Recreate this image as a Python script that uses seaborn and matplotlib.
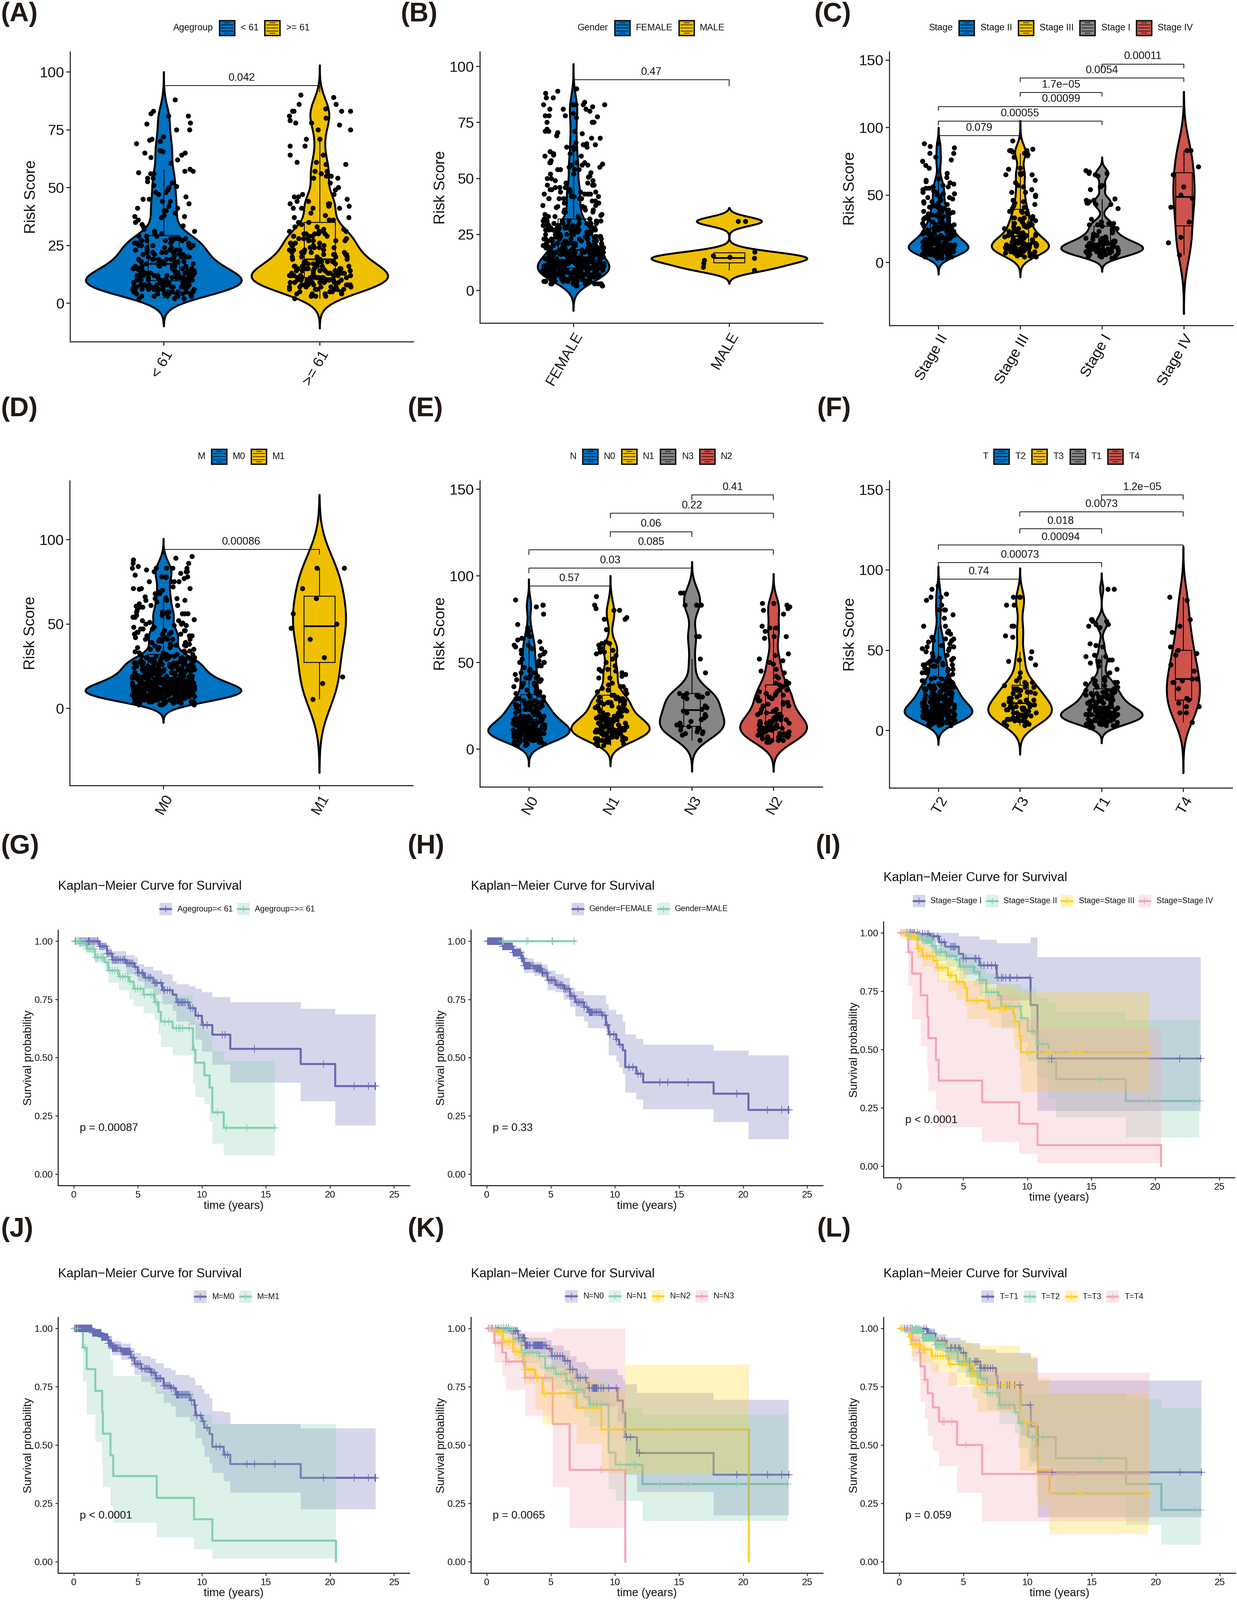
import matplotlib
matplotlib.use("Agg")
import matplotlib.pyplot as plt
import numpy as np
import pandas as pd
import seaborn as sns
from matplotlib.patches import Rectangle

# Risk score values
AGE_YOUNG = [2,2,2,3,3,3,3,3,4,4,4,4,4,4,4,5,5,5,5,5,5,5,5,6,6,6,6,6,6,6,6,6,6,7,7,7,7,7,7,7,7,7,7,7,
    8,8,8,8,8,8,8,8,8,8,8,8,9,9,9,9,9,9,9,9,9,10,10,10,10,10,10,10,10,10,10,10,10,10,11,11,11,11,11,11,11,11,11,11,11,
    12,12,12,12,12,12,12,12,12,12,13,13,13,13,13,13,13,13,14,14,14,14,14,14,14,14,15,15,15,15,15,15,15,16,16,16,16,16,16,
    17,17,17,17,17,17,18,18,18,18,18,18,19,19,19,19,19,19,20,20,20,20,20,21,21,21,21,21,22,22,22,22,22,23,23,23,23,23,
    24,24,24,24,24,25,25,25,25,25,26,26,26,26,26,27,27,27,27,27,27,28,28,28,28,28,29,29,29,
    30,30,31,31,32,33,33.5,34,35,36,37,37.5,37.5,38,39,40,40,41,41,42,43,44,44,45,45,46,47,48,48,49,50,50.5,51,52,52.5,
    54,54,56,56,56.5,57,57,58,60.5,62,63,64,65,65,65.5,66,69,70,70.5,71,72,75,75,77.5,78,81,81,82,83,88]
AGE_OLD = [2,3,3,3,4,4,4,4,5,5,5,5,5,6,6,6,6,6,6,7,7,7,7,7,7,7,8,8,8,8,8,8,8,8,9,9,9,9,9,9,9,9,9,
    10,10,10,10,10,10,10,10,10,10,11,11,11,11,11,11,11,11,11,11,11,12,12,12,12,12,12,12,12,12,12,13,13,13,13,13,13,13,13,13,
    14,14,14,14,14,14,14,14,15,15,15,15,15,15,15,16,16,16,16,16,16,17,17,17,17,17,17,18,18,18,18,18,18,19,19,19,19,19,
    20,20,20,20,20,21,21,21,21,21,22,22,22,22,22,23,23,23,23,24,24,24,24,25,25,25,25,26,26,26,26,27,27,27,27,28,28,28,28,
    29,29,29,29,29,30,30,30,30,30,31,31,31,31,32,32,33,33,34,35,35,36,36,37,37,38,39,41,41,41,41,42,42,43,43,43,44,44,45,46,46,
    47,47,49,50,52,54,54,55,55,56,57,57,60,60,61,61,64,64,68,68,71,71,75,75,77,78,78,79,80,81,83,83,83,83,84,86,86,89,90]
MALE_GROUP = [9,10.4,12,13.5,14.3,14.8,15.5,17.2,30.8,30.8]
STAGE_2 = [3,3,3,4,4,4,4,5,5,5,5,5,6,6,6,6,6,6,7,7,7,7,7,7,7,8,8,8,8,8,8,8,8,9,9,9,9,9,9,9,9,9,
    10,10,10,10,10,10,10,10,10,10,10,11,11,11,11,11,11,11,11,11,11,12,12,12,12,12,12,12,12,12,13,13,13,13,13,13,13,13,
    14,14,14,14,14,14,14,15,15,15,15,15,15,15,16,16,16,16,16,16,17,17,17,17,17,17,18,18,18,18,18,19,19,19,19,19,
    20,20,20,20,21,21,21,21,22,22,22,22,23,23,23,23,24,24,24,24,25,25,25,25,26,26,26,26,27,27,27,27,28,28,28,29,29,29,
    30,30,31,31,32,32,33,33,33,34,34,35,35,36,36,37,37,38,38,39,40,40,41,41,41,42,42,43,44,44,45,45,46,47,48,48,49,50,
    51,51,52,52,53,54,55,55,56,56,57,58,59,60,61,62,63,66,70,72,75,75,76,78,81,81,85,86,88,88]
STAGE_3 = [4,4,5,5,5,6,6,6,7,7,7,7,8,8,8,8,8,9,9,9,9,9,10,10,10,10,10,10,11,11,11,11,11,11,12,12,12,12,12,12,
    13,13,13,13,13,14,14,14,14,14,15,15,15,15,16,16,16,16,17,17,17,18,18,18,19,19,19,20,20,20,21,21,21,22,22,23,23,
    25,25,26,26,27,27,28,28,29,29,30,30,31,32,32,33,33,34,36,37,37,38,38,40,41,42,43,44,45,46,49,50,52,52,54,56,57,59,
    61,65,65,65,66,66,69,70,78,79,80,81,81,82,83,83,83,84,90]
STAGE_1 = [3,3,4,4,4,5,5,5,6,6,6,7,7,7,7,8,8,8,8,8,9,9,9,9,9,10,10,10,10,10,10,11,11,11,11,11,12,12,12,12,12,
    13,13,13,13,13,14,14,14,14,15,15,15,16,16,16,17,17,18,18,18,19,19,20,20,21,21,22,23,23,24,25,
    26,27,27,28,28,29,29,30,32,40,43,43,44,44,45,46,46,47,54,56,57,64,65,66,66,67,68]
STAGE_4 = [5.3,14.7,18.7,30,41,47.5,50,56,65,71,83,83]
N_0 = [2,2,3,3,3,4,4,4,4,4,5,5,5,5,5,5,6,6,6,6,6,6,6,7,7,7,7,7,7,7,7,8,8,8,8,8,8,8,8,8,9,9,9,9,9,9,9,9,9,9,
    10,10,10,10,10,10,10,10,10,10,10,11,11,11,11,11,11,11,11,11,11,12,12,12,12,12,12,12,12,12,13,13,13,13,13,13,13,13,
    14,14,14,14,14,14,14,15,15,15,15,15,15,16,16,16,16,16,16,17,17,17,17,17,17,18,18,18,18,18,19,19,19,19,19,
    20,20,20,20,20,21,21,21,21,21,22,22,22,22,23,23,23,23,24,24,24,24,25,25,25,25,26,26,26,26,27,27,27,27,28,28,28,29,29,29,
    30,30,31,31,32,32,33,33,34,35,36,36,37,38,38,39,40,40,41,41,41,42,42,43,44,44,45,46,47,48,48,49,50,50,50,51,52,54,
    55,55,56,57,58,58,59,60,60,62,63,64,65,66,68,70,72,78,82,83,83,86]
N_1 = [2,2,3,3,4,4,4,5,5,5,5,6,6,6,6,7,7,7,7,7,8,8,8,8,8,8,9,9,9,9,9,9,10,10,10,10,10,10,10,11,11,11,11,11,11,11,
    12,12,12,12,12,12,12,13,13,13,13,13,13,14,14,14,14,14,14,15,15,15,15,15,16,16,16,16,16,17,17,17,17,17,18,18,18,18,18,
    19,19,19,19,20,20,20,21,21,21,22,22,22,23,23,23,24,24,25,25,25,26,26,26,27,27,27,27,28,28,28,28,29,29,29,
    30,30,31,31,32,33,34,34,35,36,36,37,38,41,41,42,43,44,45,45,46,46,48,50,52,54,55,56,56,57,58,58,60,61,61,62,69,75,75,76,80,80,81,83,88]
N_3 = [5,8,9,9,10,10,11,12,12,13,13,14,15,16,17,18,19,20,21,22,22,23,24,25,29,30,30,30,31,31,32,32,32,44,52,65,65,83,83,83,90,90]
N_2 = [4,4,4,5,5,5,6,6,6,7,7,7,7,8,8,8,8,9,9,9,9,10,10,10,11,11,11,12,12,12,12,13,13,13,13,14,14,14,14,15,15,15,15,
    16,16,16,17,17,17,18,18,18,19,19,20,20,21,21,22,22,23,23,25,25,26,26,27,27,28,28,29,29,30,30,31,31,32,32,33,33,
    34,34,36,37,37,38,38,39,41,42,44,45,46,49,50,51,52,54,55,64,65,65,68,70,70,71,78,80,81,82,83,84,84]
T_2 = [3,3,3,4,4,4,4,5,5,5,5,5,6,6,6,6,6,6,7,7,7,7,7,7,7,8,8,8,8,8,8,8,8,9,9,9,9,9,9,9,9,9,10,10,10,10,10,10,10,10,10,10,
    11,11,11,11,11,11,11,11,11,11,11,12,12,12,12,12,12,12,12,12,12,13,13,13,13,13,13,13,13,13,14,14,14,14,14,14,14,14,
    15,15,15,15,15,15,15,16,16,16,16,16,16,16,17,17,17,17,17,17,17,18,18,18,18,18,18,19,19,19,19,19,19,20,20,20,20,20,20,
    21,21,21,21,21,22,22,22,22,22,23,23,23,23,23,24,24,24,24,25,25,25,25,25,26,26,26,26,26,27,27,27,27,27,28,28,28,28,28,29,29,29,29,
    30,30,30,31,31,31,32,32,33,33,33,34,34,35,36,36,37,37,38,38,38,39,40,40,41,41,41,41,42,42,43,43,44,44,45,45,46,47,48,49,50,
    51,51,52,52,53,54,55,56,56,57,57,58,60,61,62,65,65,70,72,75,75,75,78,81,83,83,85,88,90]
T_3 = [3,3,4,5,5,6,6,6,7,7,7,8,8,8,9,9,9,10,10,10,11,11,11,12,12,12,13,13,13,14,14,14,15,15,15,16,16,16,17,17,17,
    18,18,19,19,20,20,21,22,23,23,24,24,25,25,26,26,27,27,28,29,30,30,31,33,36,41,43,44,45,49,58,59,65,65,78,78,83,83,83]
T_1 = [2,2,3,3,3,4,4,4,4,5,5,5,5,5,6,6,6,6,6,6,7,7,7,7,7,7,7,8,8,8,8,8,8,8,9,9,9,9,9,9,9,10,10,10,10,10,10,10,10,
    11,11,11,11,11,11,11,12,12,12,12,12,12,13,13,13,13,13,13,14,14,14,14,14,15,15,15,15,16,16,16,16,17,17,17,17,18,18,18,18,
    19,19,19,20,20,20,21,21,21,22,22,22,23,23,23,24,24,24,25,25,25,26,26,27,27,28,28,29,29,
    30,30,31,31,32,32,33,36,38,40,42,43,44,44,46,46,47,52,53,54,64,65,66,66,68,68,69,69,88,88]
T_4 = [5,11,11,15,15,17,19,20,26,30,30,31,32,32,37,41,47,48,50,52,61,65,69,81,83]

# Kaplan-Meier steps (time, survival, lower, upper, censor times)
G1_T = [0,1.3,2,2.6,3,4.1,4.75,5,5.5,6.2,6.9,7.7,8,9,9.5,10,10.8,12.2,17.7,20.4,23.55]
G1_S = [1,1,.977,.946,.92,.905,.889,.863,.842,.82,.79,.77,.738,.712,.68,.64,.598,.538,.472,.377,.377]
G1_L = [1,.99,.967,.936,.9,.858,.85,.826,.795,.77,.728,.7,.655,.64,.577,.525,.47,.392,.312,.208,.208]
G1_H = [1,1,.988,.97,.956,.94,.93,.9,.89,.873,.857,.826,.815,.806,.795,.78,.759,.738,.71,.686,.686]
G1_C = [.1,.2,.3,.4,.5,.6,.7,.8,.9,1,1.1,1.15,1.2,1.3,1.4,1.5,1.6,1.7,1.8,1.9,2,2.1,2.2,2.3,2.4,2.5,2.6,2.7,2.8,2.9,3,3.1,3.2,3.3,3.4,3.5,3.65,3.8,3.9,4,4.1,4.2,4.3,4.4,4.5,4.6,4.8,5,5.1,5.3,5.4,5.6,5.8,5.9,6,6.3,6.4,6.5,6.8,7,7.1,7.3,7.5,8.1,8.2,8.3,8.4,8.5,8.6,8.7,8.9,9.1,9.3,9.7,10.1,10.4,11.6,11.8,14.1,19.5,21.9,23,23.5,23.55]
G2_T = [0,.4,1,1.65,2.4,2.7,3.5,4.3,4.65,5.45,6.3,6.6,6.8,7.7,9.3,9.5,10.2,10.6,10.8,11.7,15.7]
G2_S = [1,.99,.967,.93,.91,.873,.847,.826,.795,.77,.738,.696,.655,.627,.533,.478,.424,.371,.265,.199,.199]
G2_L = [1,.98,.95,.905,.87,.82,.79,.75,.72,.69,.66,.6,.545,.51,.39,.33,.3,.225,.13,.08,.08]
G2_H = [1,1,.985,.965,.955,.93,.905,.885,.865,.85,.83,.8,.77,.765,.68,.65,.615,.59,.527,.485,.485]
G2_C = [.2,.3,.4,.5,.6,.7,.8,.9,1,1.1,1.2,1.3,1.4,1.5,1.6,1.7,1.8,1.9,2.1,2.2,2.3,2.6,2.8,3,3.2,3.4,3.6,3.8,4,4.2,4.4,4.8,5,5.2,5.5,6,6.2,6.4,6.5,7.1,7.4,8,8.2,8.3,8.5,9,9.4,11.2,11.9,13.5,15.7]
H1_T = [0,1.25,2.05,2.7,2.9,3.7,4.3,4.75,5.35,6,6.5,6.9,7.6,7.9,9,9.3,9.5,10.1,10.3,10.6,10.8,11.65,12.2,17.7,20.4,23.55]
H1_S = [1,.977,.951,.925,.894,.882,.863,.832,.811,.795,.764,.738,.717,.694,.681,.639,.6,.577,.556,.532,.459,.431,.394,.345,.275,.275]
H1_L = [1,.965,.93,.9,.863,.852,.842,.79,.78,.75,.717,.676,.655,.627,.627,.608,.51,.483,.457,.431,.35,.32,.279,.223,.15,.15]
H1_H = [1,.99,.975,.96,.925,.91,.9,.873,.857,.842,.8,.785,.767,.767,.767,.728,.705,.686,.686,.655,.6,.58,.556,.53,.51,.51]
H2_T = [0,6.9]
H2_S = [1,1]
H2_C = [1.2,1.3,3.1,3.2,5.1,5.15,6.8]
I1_T = [0,1.5,2.4,3.1,3.6,4.65,5,6.25,7.6,10.25,10.8,23.55]
I1_S = [1,.995,.985,.96,.94,.91,.89,.86,.807,.69,.461,.461]
I1_L = [1,.98,.96,.92,.895,.85,.82,.78,.71,.56,.236,.236]
I1_H = [1,1,1,1,1,.985,.985,.97,.956,.98,.896,.896]
I1_C = [.1,.2,.3,.4,.5,.6,.7,.8,.9,1,1.1,1.2,1.4,1.6,1.8,2,2.2,2.3,2.4,2.6,2.7,3,3.3,3.5,4,4.1,4.2,4.3,4.4,5,5.2,5.9,6,6.2,6.4,6.6,6.9,7.2,7.5,7.7,8,8.1,8.3,8.6,8.7,9.2,10.2,11.9,21.9,23.55]
I2_T = [0,.75,1.8,2.55,2.85,3.7,4.45,4.7,5.85,6.25,6.8,7.75,7.95,9.5,10.05,10.7,11.65,12.25,17.7,23.45]
I2_S = [1,.985,.969,.943,.917,.9,.885,.854,.833,.797,.745,.73,.684,.635,.578,.523,.447,.372,.279,.279]
I2_L = [1,.97,.945,.915,.88,.855,.835,.8,.77,.73,.67,.65,.59,.53,.45,.38,.29,.208,.123,.123]
I2_H = [1,1,.99,.975,.955,.945,.935,.91,.895,.865,.825,.815,.78,.76,.76,.72,.7,.66,.628,.628]
I2_C = [.1,.3,.5,.7,.9,1,1.1,1.2,1.3,1.4,1.5,1.6,1.7,1.8,1.9,2,2.05,2.1,2.15,2.2,2.25,2.3,2.35,2.4,2.45,2.5,2.6,2.7,2.8,2.85,2.9,3,3.1,3.2,3.3,3.5,3.7,3.9,4.1,4.3,4.5,4.8,5,5.2,5.5,5.7,5.9,6.1,6.3,6.5,6.8,7,7.2,7.4,7.6,8.1,8.3,8.6,8.8,9.4,9.6,10.4,10.9,11.2,15.7,19.5,23,23.45]
I3_T = [0,.6,1.4,1.8,2.65,2.95,3.8,4.45,5.1,5.3,7,8.9,9,9.4,9.5,19.5]
I3_S = [1,.985,.932,.9,.88,.85,.818,.79,.765,.71,.677,.651,.62,.557,.488,.488]
I3_L = [1,.965,.89,.855,.83,.79,.75,.715,.685,.63,.595,.55,.5,.42,.32,.32]
I3_H = [1,1,.97,.945,.93,.91,.885,.865,.845,.8,.775,.76,.76,.75,.745,.745]
I3_C = [.1,.2,.3,.4,.6,.8,1,1.1,1.2,1.3,1.4,1.5,1.6,1.7,1.9,2.1,2.2,2.4,2.6,2.9,3,3.1,3.3,3.4,3.6,3.9,4,4.1,4.5,4.7,4.9,5.1,5.6,5.8,6,6.1,6.7,7.1,7.5,7.9,8.1,8.2,8.4,8.8,9,9.4,9.9,10,11.6,11.7,13.5,14.1,19.5]
I4_T = [0,.7,1,1.67,2.2,2.27,2.86,3.07,6.47,9.37,10.8,20.46]
I4_S = [1,.917,.825,.732,.64,.549,.456,.366,.274,.182,.09,0]
I4_L = [1,.772,.63,.514,.415,.32,.24,.167,.105,.053,.013,.013]
I4_H = [1,1,1,1,.99,.94,.868,.796,.73,.63,.59,.59]
I4_C = [.1,.3,.85]
J1_T = [0,1.45,2.15,2.7,3,3.7,4.45,4.75,5.25,6,6.4,7,7.6,7.95,9.05,9.4,9.5,10,10.2,10.6,10.8,11.7,12.2,17.7,23.55]
J1_S = [1,.98,.962,.936,.915,.9,.874,.848,.827,.811,.785,.754,.744,.715,.692,.671,.627,.602,.573,.547,.493,.458,.419,.359,.359]
J1_L = [1,.97,.945,.91,.885,.865,.835,.8,.77,.75,.72,.68,.665,.62,.6,.59,.53,.5,.45,.42,.38,.345,.295,.225,.225]
J1_H = [1,.99,.975,.965,.945,.935,.915,.895,.88,.87,.85,.83,.82,.8,.79,.78,.755,.74,.72,.7,.645,.64,.59,.57,.57]
COHORT_C = [.05,.1,.12,.15,.18,.2,.22,.25,.28,.3,.32,.35,.38,.4,.45,.5,.55,.6,.65,.7,.75,.8,.85,.9,.95,1,1.05,1.1,1.15,1.2,1.25,1.3,1.35,1.4,1.45,1.5,1.55,1.6,1.65,1.7,1.75,1.8,1.85,1.9,1.95,2,2.05,2.1,2.15,2.2,2.25,2.3,2.35,2.4,2.45,2.5,2.55,2.6,2.65,2.7,2.75,2.8,2.85,2.9,2.95,3,3.05,3.1,3.15,3.2,3.25,3.3,3.35,3.4,3.5,3.6,3.7,3.8,3.85,3.9,3.95,4,4.05,4.1,4.15,4.2,4.25,4.3,4.35,4.4,4.5,4.6,4.7,4.8,4.9,5,5.1,5.2,5.3,5.5,5.6,5.7,5.8,5.9,6,6.1,6.2,6.3,6.4,6.5,6.6,6.7,6.8,7,7.1,7.2,7.3,7.4,7.5,7.6,7.8,8,8.05,8.1,8.15,8.2,8.3,8.4,8.5,8.6,8.7,8.8,8.9,9,9.2,9.4,9.6,9.9,10.1,10.4,11.1,11.4,11.8,12,13.5,14.1,15.7,19.5,21.9,23,23.5,23.55]
K1_T = [0,1.75,2.45,3,4.65,5.05,6,6.5,7,7.75,7.95,10.2,10.6,10.8,11.7,17.7,23.55]
K1_S = [1,.989,.958,.927,.912,.881,.86,.824,.788,.768,.744,.69,.639,.534,.465,.373,.373]
K1_L = [1,.975,.935,.89,.87,.83,.8,.76,.72,.69,.665,.6,.54,.372,.298,.198,.198]
K1_H = [1,1,.98,.96,.95,.925,.905,.88,.855,.84,.825,.8,.78,.76,.723,.693,.693]
K1_C = [.1,.2,.3,.4,.5,.7,.9,1.1,1.3,1.5,1.7,1.9,2,2.1,2.2,2.3,2.4,2.5,2.6,2.7,2.8,2.85,2.9,2.95,3,3.05,3.1,3.15,3.2,3.3,3.4,3.6,3.7,3.75,3.8,3.85,3.9,3.95,4,4.05,4.1,4.15,4.2,4.25,4.3,4.35,4.4,4.5,4.6,4.9,5.1,5.3,5.5,5.7,5.9,6.1,6.3,6.5,6.7,7.1,7.3,7.7,8,8.2,8.3,8.35,8.4,8.45,8.5,8.55,8.6,8.7,8.9,9.1,9.5,10.1,10.9,11.2,11.9,19.5,21.9,23,23.55]
K2_T = [0,.6,2.05,2.7,4.1,4.55,5.35,6.2,6.7,7.6,8,9.5,10.05,12.15,23.45]
K2_S = [1,.994,.953,.896,.88,.83,.804,.773,.737,.706,.675,.467,.416,.332,.332]
K2_L = [1,.98,.925,.85,.83,.77,.74,.7,.655,.62,.58,.31,.26,.175,.175]
K2_H = [1,1,.98,.945,.93,.89,.87,.85,.82,.795,.77,.68,.66,.63,.63]
K2_C = [.1,.3,.5,.8,1,1.1,1.2,1.3,1.4,1.5,1.6,1.7,1.8,1.9,2,2.2,2.4,2.6,2.7,2.8,2.9,3,3.1,3.3,3.6,3.9,4.1,4.5,4.6,4.8,5,5.2,5.4,5.6,5.8,6,6.2,6.3,6.5,6.8,7,7.2,7.4,8.1,8.3,8.6,8.9,10.4,11.5,11.6,13.5,15.7,19.5,23.45]
K3_T = [0,.6,1.25,2.05,2.8,2.9,3.8,4.35,7,8.95,10.8,20.45]
K3_S = [1,.984,.943,.9,.876,.824,.788,.721,.66,.567,.567,0]
K3_L = [1,.965,.91,.855,.825,.76,.65,.588,.505,.38,.38,.38]
K3_H = [1,1,.98,.955,.94,.9,.875,.83,.78,.74,.845,.845]
K3_C = [.1,.3,.5,.7,.9,1,1.1,1.2,1.4,1.6,1.7,1.8,2,2.2,2.3,2.5,2.7,2.8,2.9,3,3.2,3.4,3.6,3.9,4,4.5,5.1,5.7,6.7,7.1,7.8,8.2,8.7,9,9.4,10,14.1]
K4_T = [0,.6,1.2,1.5,3,5.15,6.45,10.8]
K4_S = [1,.937,.896,.857,.788,.59,.393,0]
K4_L = [1,.853,.796,.737,.626,.32,.144,.144]
K4_H = [1,1,1,.985,.985,1,1,1]
K4_C = [.1,.2,.3,.7,.9,1.1,1.5,1.7,2.8,3,3.4,3.6,4.5,8.9]
L1_T = [0,1.45,2.2,2.8,3.65,4.8,5.2,6.3,7.55,7.65,9.45,10.25,10.8,23.55]
L1_S = [1,.998,.977,.946,.915,.894,.858,.83,.796,.757,.671,.58,.383,.383]
L1_L = [1,.985,.95,.905,.865,.835,.79,.755,.7,.65,.54,.43,.19,.19]
L1_H = [1,1,1,.975,.96,.95,.936,.91,.895,.895,.895,.873,.777,.777]
L1_C = [.2,.4,.6,.7,.8,.9,1,1.3,1.5,1.9,2.1,2.2,2.3,2.4,2.5,2.7,3,3.3,3.5,4,4.1,4.3,4.4,4.6,4.7,5,5.2,5.5,5.9,6,6.1,6.3,6.4,6.6,6.7,6.9,7.1,7.3,7.7,7.9,8.2,8.4,8.6,9,9.4,10.2,11.9,21.9,23.55]
L2_T = [0,.5,1.8,2.8,3.65,4.55,5.5,6.3,6.85,7.8,9,9.3,10.05,12.2,17.7,20.45,23.5]
L2_S = [1,.993,.96,.93,.9,.858,.816,.785,.723,.671,.64,.594,.534,.443,.333,.222,.222]
L2_L = [1,.98,.94,.9,.86,.81,.76,.72,.65,.59,.55,.49,.41,.28,.158,.073,.073]
L2_H = [1,1,.985,.96,.94,.91,.875,.85,.8,.76,.74,.72,.72,.723,.697,.66,.66]
L2_C = [.1,.3,.5,.7,.9,1,1.05,1.1,1.15,1.2,1.25,1.3,1.35,1.4,1.45,1.5,1.55,1.6,1.65,1.7,1.75,1.8,1.85,1.9,1.95,2,2.05,2.1,2.15,2.2,2.25,2.3,2.35,2.4,2.45,2.5,2.55,2.6,2.65,2.7,2.75,2.8,2.85,2.9,3,3.1,3.2,3.3,3.4,3.5,3.7,3.9,4.1,4.3,4.5,4.6,4.7,5,5.2,5.4,5.6,5.8,6.2,6.4,6.6,6.9,7.1,7.3,7.6,7.9,8.1,8.3,8.6,8.9,9.1,9.4,9.6,10.4,10.9,11.2,15.7,23,23.45]
L3_T = [0,.75,.95,1.65,2.5,3.85,5.7,6.1,9.4,10.65,10.8,11.7,19.45]
L3_S = [1,.962,.93,.91,.882,.846,.806,.757,.594,.49,.392,.293,.293]
L3_L = [1,.93,.88,.85,.81,.755,.7,.64,.39,.283,.24,.12,.12]
L3_H = [1,1,.985,.97,.96,.94,.93,.925,.885,.8,.785,.72,.72]
L3_C = [.1,.2,.3,.8,.9,1,1.1,1.2,1.3,1.4,1.5,1.6,1.8,1.9,2,2.6,2.8,3,3.2,3.4,3.6,4,5.1,5.6,5.7,5.9,6.2,6.7,7.5,8,8.2,8.8,9.9,11.7,14.1,19.45]
L4_T = [0,1,1.55,1.65,2,2.2,2.6,3.1,4.5,6.45,19.5]
L4_S = [1,.95,.894,.837,.78,.721,.661,.6,.5,.376,.376]
L4_L = [1,.858,.79,.685,.612,.54,.473,.41,.296,.173,.173]
L4_H = [1,1,.975,.95,.92,.88,.85,.81,.75,.811,.811]
L4_C = [.7,.8,1.1,1.3,1.6,2,3.4,3.5,4.1,5.2,11.7,13.5,19.5]

JCO = ["#0073C2", "#EFC000", "#868686", "#CD534C"]
KM = ["#6A6CB4", "#87CFB3", "#FFD41E", "#F3A7B6"]
INK = "#111111"
W, H = 3583, 4636

sns.set_theme(style="ticks")
plt.rcParams["font.family"] = ["Liberation Sans", "DejaVu Sans"]
plt.rcParams["axes.linewidth"] = 0.75

fig = plt.figure(figsize=(W / 300, H / 300), dpi=300)
canvas = fig.add_axes([0, 0, 1, 1], zorder=10)
canvas.set_xlim(0, W)
canvas.set_ylim(H, 0)
canvas.axis("off")


def px_axes(left, right, top, bottom):
    return fig.add_axes([left / W, 1 - bottom / H, (right - left) / W, (bottom - top) / H])


def violin_panel(rect, ylim, yticks, groups, brackets):
    ax = px_axes(*rect)
    cats = [g[0] for g in groups]
    for (name, vals, width, bw), col in zip(groups, JCO):
        sns.violinplot(x=[name] * len(vals), y=vals, order=cats, color=col, saturation=1,
                       width=width, cut=3, inner=None, linewidth=1.35, linecolor="black",
                       density_norm="width", ax=ax,
                       bw_method=lambda k, b=bw: b / k.dataset.std(ddof=1))
    df = pd.concat([pd.DataFrame({"group": g[0], "score": g[1]}) for g in groups])
    sns.boxplot(data=df, x="group", y="score", order=cats, width=0.2, fill=False, color="black",
                linecolor="black", linewidth=0.6, showfliers=False, showcaps=False,
                medianprops={"linewidth": 1.2}, ax=ax)
    sns.stripplot(data=df, x="group", y="score", order=cats, jitter=0.2, size=3.5,
                  color="black", zorder=4, ax=ax)
    for a, b, y, label in brackets:
        ax.plot([a, a, b, b], [y - 2.8, y, y, y - 2.8], color="black", lw=0.5, zorder=5)
        ax.annotate(label, ((a + b) / 2, y), xytext=(0, 1.7), textcoords="offset points",
                    ha="center", va="bottom", fontsize=7.4, color=INK)
    ax.set_xlim(-0.6, len(cats) - 0.4)
    ax.set_ylim(*ylim)
    ax.set_yticks(yticks)
    ax.set_xlabel("")
    ax.set_ylabel("Risk Score", fontsize=10.6, color=INK, va="center")
    ax.yaxis.set_label_coords(-113 / (rect[1] - rect[0]), 0.5)
    ax.tick_params(axis="y", labelsize=10.3, length=2.6, width=0.75, pad=1.5, labelcolor=INK)
    ax.tick_params(axis="x", length=2.6, width=0.75, pad=2)
    ax.set_xticks(range(len(cats)))
    ax.set_xticklabels(cats, rotation=60, ha="right", va="top", rotation_mode="anchor",
                       fontsize=10.3, color=INK)
    sns.despine(ax=ax)
    return ax


def box_legend(y, title, title_x, entries):
    canvas.text(title_x, y, title, fontsize=6.4, va="center", color=INK)
    for (label, key_x, label_x), col in zip(entries, JCO):
        canvas.add_patch(Rectangle((key_x, y - 21), 44, 43, fc=col, ec="#111111", lw=1.0))
        for dy in (-9, 0, 9):
            canvas.plot([key_x + 5, key_x + 39], [y + dy, y + dy], color="black", lw=0.4)
        for dy in (-15, 15):
            canvas.plot([key_x + 14, key_x + 30], [y + dy, y + dy], color="black", lw=0.4)
        canvas.text(label_x, y, label, fontsize=6.4, va="center", color=INK)


def km_panel(rect, title, title_y, pval, series):
    ax = px_axes(*rect)
    for (t, s, lo, hi, c), col in zip(series, KM):
        sns.lineplot(x=t, y=s, drawstyle="steps-post", color=col, linewidth=1.45, estimator=None,
                     sort=False, errorbar=None, zorder=2, ax=ax)
    for (t, s, lo, hi, c), col in zip(series, KM):
        if lo is not None:
            ax.fill_between(t, lo, hi, step="post", color=col, alpha=0.28, lw=0, zorder=2.5)
    for (t, s, lo, hi, c), col in zip(series, KM):
        at = np.array(s)[np.searchsorted(t, c, side="right") - 1]
        sns.scatterplot(x=c, y=at, marker="+", s=30, color=col, linewidth=0.5, zorder=3,
                        clip_on=False, legend=False, ax=ax)
    ax.set_xlim(-1.24, 26.2)
    ax.set_ylim(-0.049, 1.047)
    ax.set_xticks([0, 5, 10, 15, 20, 25])
    ax.set_yticks([0, 0.25, 0.5, 0.75, 1])
    ax.set_yticklabels(["0.00", "0.25", "0.50", "0.75", "1.00"])
    ax.tick_params(labelsize=6.6, length=2, width=0.6, pad=1.5, labelcolor=INK)
    ax.set_xlabel("time (years)", fontsize=7.9, color=INK, va="center")
    ax.set_ylabel("Survival probability", fontsize=7.9, color=INK, va="center")
    ax.xaxis.set_label_coords(0.5, -59 / (rect[3] - rect[2]))
    ax.yaxis.set_label_coords(-85 / (rect[1] - rect[0]), 0.5)
    ax.text(0.46, 0.197, pval, fontsize=7.7, va="center", color=INK)
    sns.despine(ax=ax)
    canvas.text(rect[0], title_y, title, fontsize=8.85, va="baseline", color=INK)
    return ax


def km_legend(y, entries):
    for (label, key_x, label_x), col in zip(entries, KM):
        canvas.add_patch(Rectangle((key_x, y - 18), 36, 36, fc=col, alpha=0.28, lw=0))
        canvas.plot([key_x + 2, key_x + 34], [y, y], color=col, lw=1.45)
        canvas.plot([key_x + 18, key_x + 18], [y - 9, y + 9], color=col, lw=0.5)
        canvas.text(label_x, y, label, fontsize=5.6, va="center", color=INK)


ALL_SCORES = AGE_YOUNG + AGE_OLD

# (A)-(F) violins
violin_panel((203, 1197, 150, 990), (-16.7, 108.7), [0, 25, 50, 75, 100],
             [("< 61", AGE_YOUNG, 1.0, 4.0), (">= 61", AGE_OLD, 0.875, 4.3)],
             [(0, 1, 94, "0.042")])
box_legend(81, "Agegroup", 502, [("< 61", 636, 697), (">= 61", 767, 829)])
violin_panel((1390, 2383, 150, 936), (-14.6, 106.5), [0, 25, 50, 75, 100],
             [("FEMALE", ALL_SCORES, 0.46, 3.7), ("MALE", MALE_GROUP, 1.0, 2.0)],
             [(0, 1, 94, "0.47")])
box_legend(81, "Gender", 1673, [("FEMALE", 1781, 1842), ("MALE", 1967, 2027)])
violin_panel((2576, 3571, 150, 943), (-46.8, 156.1), [0, 50, 100, 150],
             [("Stage II", STAGE_2, 0.73, 4.0), ("Stage III", STAGE_3, 0.70, 5.0),
              ("Stage I", STAGE_1, 1.0, 3.3), ("Stage IV", STAGE_4, 0.26, 14.5)],
             [(0, 1, 94, "0.079"), (0, 2, 104.6, "0.00055"), (0, 3, 115.3, "0.00099"),
              (1, 2, 126, "1.7e\u221205"), (1, 3, 136.6, "0.0054"), (2, 3, 147, "0.00011")])
box_legend(81, "Stage", 2691, [("Stage II", 2778, 2840), ("Stage III", 2950, 3011),
                               ("Stage I", 3128, 3190), ("Stage IV", 3292, 3353)])
violin_panel((202, 1196, 1393, 2276), (-45.8, 134.8), [0, 50, 100],
             [("M0", ALL_SCORES, 1.0, 3.5), ("M1", STAGE_4, 0.34, 14.5)],
             [(0, 1, 94, "0.00086")])
box_legend(1323, "M", 573, [("M0", 613, 674), ("M1", 728, 789)])
violin_panel((1390, 2382, 1393, 2280), (-21.9, 154.8), [0, 50, 100, 150],
             [("N0", N_0, 1.0, 4.0), ("N1", N_1, 0.96, 4.0), ("N3", N_3, 0.79, 6.0), ("N2", N_2, 0.82, 5.7)],
             [(0, 1, 94, "0.57"), (0, 2, 104.4, "0.03"), (0, 3, 115, "0.085"),
              (1, 2, 125.4, "0.06"), (1, 3, 136, "0.22"), (2, 3, 146.6, "0.41")])
box_legend(1323, "N", 1651, [("N0", 1688, 1749), ("N1", 1801, 1862), ("N3", 1913, 1976), ("N2", 2027, 2088)])
violin_panel((2576, 3569, 1393, 2283), (-35.8, 155.4), [0, 50, 100, 150],
             [("T2", T_2, 0.83, 4.0), ("T3", T_3, 0.78, 6.0), ("T1", T_1, 1.0, 3.3), ("T4", T_4, 0.405, 10.5)],
             [(0, 1, 94.2, "0.74"), (0, 2, 104.5, "0.00073"), (0, 3, 115.4, "0.00094"),
              (1, 2, 125.6, "0.018"), (1, 3, 136, "0.0073"), (2, 3, 146.6, "1.2e\u221205")])
box_legend(1323, "T", 2846, [("T2", 2879, 2940), ("T3", 2989, 3050), ("T1", 3100, 3160), ("T4", 3209, 3270)])

# (G)-(L) survival curves
TITLE = "Kaplan\u2212Meier Curve for Survival"
km_panel((168, 1186, 2695, 3435), TITLE, 2578, "p = 0.00087",
         [(G1_T, G1_S, G1_L, G1_H, G1_C), (G2_T, G2_S, G2_L, G2_H, G2_C)])
km_legend(2634, [("Agegroup=< 61", 462, 514), ("Agegroup=>= 61", 687, 738)])
km_panel((1364, 2383, 2695, 3435), TITLE, 2578, "p = 0.33",
         [(H1_T, H1_S, H1_L, H1_H, COHORT_C), (H2_T, H2_S, None, None, H2_C)])
km_legend(2634, [("Gender=FEMALE", 1656, 1707), ("Gender=MALE", 1904, 1955)])
km_panel((2559, 3576, 2671, 3412), TITLE, 2553, "p < 0.0001",
         [(I1_T, I1_S, I1_L, I1_H, I1_C), (I2_T, I2_S, I2_L, I2_H, I2_C),
          (I3_T, I3_S, I3_L, I3_H, I3_C), (I4_T, I4_S, I4_L, I4_H, I4_C)])
km_legend(2611, [("Stage=Stage I", 2644, 2695), ("Stage=Stage II", 2856, 2907),
                 ("Stage=Stage III", 3073, 3125), ("Stage=Stage IV", 3298, 3350)])
km_panel((168, 1186, 3817, 4558), TITLE, 3701, "p < 0.0001",
         [(J1_T, J1_S, J1_L, J1_H, COHORT_C), (I4_T, I4_S, I4_L, I4_H, I4_C)])
km_legend(3757, [("M=M0", 562, 614), ("M=M1", 693, 744)])
km_panel((1364, 2383, 3817, 4558), TITLE, 3701, "p = 0.0065",
         [(K1_T, K1_S, K1_L, K1_H, K1_C), (K2_T, K2_S, K2_L, K2_H, K2_C),
          (K3_T, K3_S, K3_L, K3_H, K3_C), (K4_T, K4_S, K4_L, K4_H, K4_C)])
km_legend(3756, [("N=N0", 1637, 1689), ("N=N1", 1763, 1814), ("N=N2", 1888, 1940), ("N=N3", 2015, 2066)])
km_panel((2559, 3578, 3817, 4558), TITLE, 3701, "p = 0.059",
         [(L1_T, L1_S, L1_L, L1_H, L1_C), (L2_T, L2_S, L2_L, L2_H, L2_C),
          (L3_T, L3_S, L3_L, L3_H, L3_C), (L4_T, L4_S, L4_L, L4_H, L4_C)])
km_legend(3757, [("T=T1", 2843, 2895), ("T=T2", 2965, 3016), ("T=T3", 3085, 3136), ("T=T4", 3205, 3257)])

# panel letters
for label, x, y in [("(A)", 2, 62), ("(B)", 1160, 62), ("(C)", 2358, 62),
                    ("(D)", 2, 1206), ("(E)", 1180, 1206), ("(F)", 2366, 1206),
                    ("(G)", 2, 2473), ("(H)", 1180, 2473), ("(I)", 2362, 2473),
                    ("(J)", 2, 3583), ("(K)", 1180, 3583), ("(L)", 2366, 3583)]:
    canvas.text(x, y, label, fontsize=18.5, fontweight="bold", va="baseline", color="#231815")

fig.savefig("out.png", dpi=300)
